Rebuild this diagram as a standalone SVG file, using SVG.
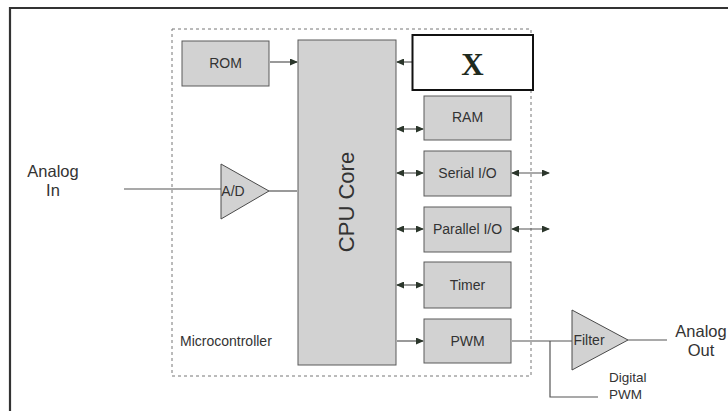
<svg xmlns="http://www.w3.org/2000/svg" width="728" height="411" viewBox="0 0 728 411">
  <style>
    .blk { fill: #d2d2d2; stroke: #5a5a5a; stroke-width: 1; }
    .amp { fill: #d2d2d2; stroke: #4a4a4a; stroke-width: 1; }
    .wire { fill: none; stroke: #555; stroke-width: 1.2; }
    .lbl { font-family: "Liberation Sans", Arial, sans-serif; font-size: 14px; fill: #333; text-anchor: middle; }
    .big { font-family: "Liberation Sans", Arial, sans-serif; font-size: 16.5px; fill: #333; text-anchor: middle; }
  </style>
  <defs>
    <marker id="ah" markerWidth="8" markerHeight="7" refX="7" refY="3.5" orient="auto-start-reverse" markerUnits="userSpaceOnUse">
      <path d="M0,0 L8,3.5 L0,7 z" fill="#2b362b"/>
    </marker>
  </defs>

  <rect width="728" height="411" fill="#ffffff"/>

  <!-- outer frame -->
  <path d="M10,411 L10,8 L728,8" fill="none" stroke="#333" stroke-width="2.2"/>

  <!-- microcontroller boundary -->
  <g id="microcontroller">
    <rect x="172" y="29" width="359" height="347" fill="none" stroke="#777" stroke-width="1" stroke-dasharray="3,3"/>
    <text x="180" y="346" font-family="Liberation Sans, Arial, sans-serif" font-size="14" fill="#333">Microcontroller</text>
  </g>

  <!-- connectors -->
  <g id="connectors">
    <line class="wire" x1="270" y1="62" x2="297" y2="62" marker-end="url(#ah)"/>
    <line class="wire" x1="412" y1="62" x2="397" y2="62" marker-end="url(#ah)"/>
    <line class="wire" x1="397" y1="129" x2="423" y2="129" marker-start="url(#ah)" marker-end="url(#ah)"/>
    <line class="wire" x1="397" y1="173" x2="423" y2="173" marker-start="url(#ah)" marker-end="url(#ah)"/>
    <line class="wire" x1="397" y1="229" x2="423" y2="229" marker-start="url(#ah)" marker-end="url(#ah)"/>
    <line class="wire" x1="397" y1="285" x2="423" y2="285" marker-start="url(#ah)" marker-end="url(#ah)"/>
    <line class="wire" x1="397" y1="341" x2="423" y2="341" marker-end="url(#ah)"/>
    <line class="wire" x1="512" y1="173" x2="549" y2="173" marker-start="url(#ah)" marker-end="url(#ah)"/>
    <line class="wire" x1="512" y1="229" x2="549" y2="229" marker-start="url(#ah)" marker-end="url(#ah)"/>
    <!-- analog in -->
    <line class="wire" x1="124" y1="189" x2="221" y2="189"/>
    <line class="wire" x1="269" y1="191" x2="297" y2="191"/>
    <!-- PWM out to filter and digital tap -->
    <line class="wire" x1="512" y1="341" x2="572" y2="341"/>
    <polyline class="wire" points="550,341 550,397 598,397"/>
    <line class="wire" x1="628" y1="340" x2="667" y2="340"/>
  </g>

  <g id="rom">
    <rect class="blk" x="182" y="41" width="87" height="45"/>
    <text class="lbl" x="225.5" y="68">ROM</text>
  </g>

  <g id="cpu">
    <rect class="blk" x="298" y="40" width="98" height="325"/>
    <text x="0" y="0" transform="translate(354,202) rotate(-90)" font-family="Liberation Sans, Arial, sans-serif" font-size="22" fill="#333" text-anchor="middle">CPU Core</text>
  </g>

  <g id="x">
    <rect x="412.5" y="35" width="120.5" height="55" fill="#fff" stroke="#111" stroke-width="2"/>
    <text x="472.5" y="75" font-family="Liberation Serif, 'Times New Roman', serif" font-size="31" font-weight="bold" fill="#1e2a1e" text-anchor="middle">X</text>
  </g>

  <g id="ram">
    <rect class="blk" x="424" y="96" width="87" height="44"/>
    <text class="lbl" x="467.5" y="122">RAM</text>
  </g>

  <g id="serial">
    <rect class="blk" x="424" y="151" width="87" height="45"/>
    <text class="lbl" x="467.5" y="178">Serial I/O</text>
  </g>

  <g id="parallel">
    <rect class="blk" x="424" y="207" width="87" height="45"/>
    <text class="lbl" x="467.5" y="234">Parallel I/O</text>
  </g>

  <g id="timer">
    <rect class="blk" x="424" y="262" width="87" height="46"/>
    <text class="lbl" x="467.5" y="290">Timer</text>
  </g>

  <g id="pwm">
    <rect class="blk" x="424" y="319" width="87" height="44"/>
    <text class="lbl" x="467.5" y="346">PWM</text>
  </g>

  <g id="adc">
    <polygon class="amp" points="221,164 269,191 221,219"/>
    <text class="lbl" x="233" y="196">A/D</text>
  </g>

  <g id="filter">
    <polygon class="amp" points="572,310 628,340 572,370"/>
    <text class="lbl" x="589" y="345">Filter</text>
  </g>

  <g id="analog-in">
    <text class="big" x="53" y="177">Analog</text>
    <text class="big" x="53" y="196">In</text>
  </g>

  <g id="analog-out">
    <text class="big" x="701" y="337">Analog</text>
    <text class="big" x="701" y="356">Out</text>
  </g>

  <g id="digital-pwm">
    <text x="609" y="382" font-family="Liberation Sans, Arial, sans-serif" font-size="13.5" fill="#333">Digital</text>
    <text x="609" y="399" font-family="Liberation Sans, Arial, sans-serif" font-size="13.5" fill="#333">PWM</text>
  </g>
</svg>
